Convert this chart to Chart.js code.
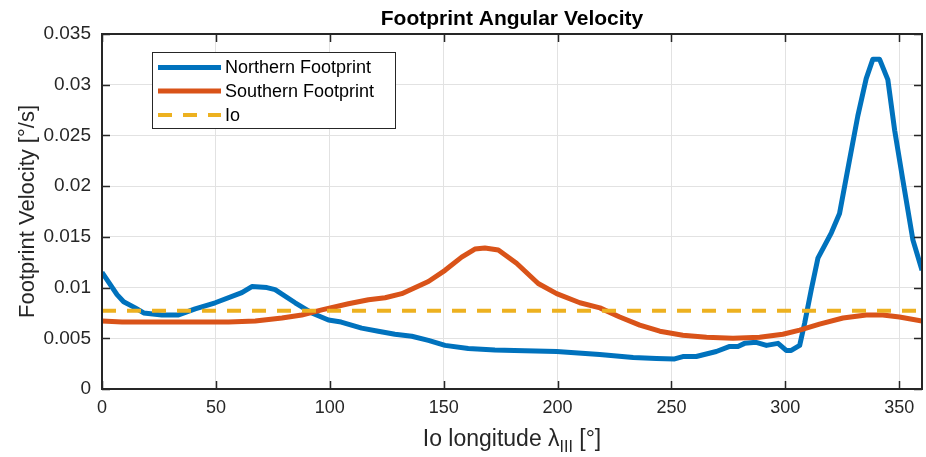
<!DOCTYPE html>
<html>
<head>
<meta charset="utf-8">
<script src="https://cdn.jsdelivr.net/npm/chart.js@4"></script>
<style>
  body { margin: 0; background: #fff; }
  canvas { display: block; }
</style>
</head>
<body>
<canvas id="fpChart" width="926" height="457"></canvas>
<script>
// values (longitude in deg, velocity in deg/s)
const northLon = [0, 6.6, 9.5, 14.6, 18.3, 26.3, 33.6, 40.9, 49.7, 61.4, 65.8, 72.4, 76, 84.8, 92.1,
  99.4, 105, 114, 121.3, 128.6, 136, 143.3, 150.6, 160.8, 172.5, 181, 199.6, 218.5, 233.2, 243.4,
  251.4, 255, 260.9, 269.7, 275.6, 279.2, 282.1, 287.2, 291.7, 296.8, 300.4, 302.6, 306.3, 308.5, 311.4,
  314.3, 320.2, 323.8, 328.2, 331.8, 335.5, 338.4, 341.4, 345, 348, 351.6, 356, 360];
const northVel = [0.0115, 0.0093, 0.0086, 0.0080, 0.0075, 0.0073, 0.0073, 0.0079, 0.0085, 0.0095, 0.0101, 0.0100, 0.0098, 0.0085, 0.0075,
  0.0068, 0.0066, 0.0060, 0.0057, 0.0054, 0.0052, 0.0048, 0.0043, 0.0040, 0.00385, 0.0038, 0.0037, 0.0034, 0.0031, 0.0030,
  0.00296, 0.0032, 0.0032, 0.0037, 0.0042, 0.0042, 0.0045, 0.0046, 0.0043, 0.0045, 0.0038, 0.0038, 0.0043, 0.0065, 0.0098,
  0.0129, 0.0154, 0.0173, 0.0226, 0.0269, 0.0306, 0.0325, 0.0325, 0.0305, 0.0255, 0.0206, 0.0147, 0.0117];

const southLon = [0, 8.8, 19, 33.6, 55.6, 67.3, 79, 87.7, 96.5, 108.2, 117, 124.3, 131.6, 143.3, 150.6,
  157.9, 163.7, 168.1, 174, 182, 191.5, 199.6, 209.8, 218.6, 227.3, 236.1, 244.9, 255, 265.4, 277,
  288.7, 298.9, 306.3, 315, 325.3, 335.5, 342.8, 350.1, 360];
const southVel = [0.0067, 0.0066, 0.0066, 0.0066, 0.0066, 0.0067, 0.0070, 0.0073, 0.0078, 0.0084, 0.0088, 0.0090, 0.0094, 0.0106, 0.0117,
  0.0130, 0.0138, 0.0139, 0.0137, 0.0124, 0.0104, 0.0094, 0.0085, 0.0080, 0.0071, 0.0063, 0.0057, 0.0053, 0.0051, 0.0050,
  0.0051, 0.0054, 0.0058, 0.0064, 0.0070, 0.0073, 0.0073, 0.0071, 0.0067];

const ioLon = [0, 360];
const ioVel = [0.00772, 0.00772];

const xTicks = [0, 50, 100, 150, 200, 250, 300, 350];
const yTicks = [0, 0.005, 0.01, 0.015, 0.02, 0.025, 0.03, 0.035];

const titleText = "Footprint Angular Velocity";
const yTitle = "Footprint Velocity [°/s]";

const toPoints = (xs, ys) => xs.map((x, i) => ({ x: x, y: ys[i] }));

const axisColor = "#262626";
const fontFam = "'Liberation Sans', Arial, sans-serif";

// title, axis labels, box, inward ticks and the legend, MATLAB style
const matlabDecor = {
  id: "matlabDecor",
  afterDraw(chart) {
    const ctx = chart.ctx;
    const a = chart.chartArea;
    const xs = chart.scales.x, ys = chart.scales.y;
    ctx.save();

    // inward ticks
    ctx.strokeStyle = axisColor;
    ctx.lineWidth = 1.5;
    ctx.beginPath();
    xTicks.forEach(v => {
      const px = Math.round(xs.getPixelForValue(v)) + 0.5;
      ctx.moveTo(px, a.bottom); ctx.lineTo(px, a.bottom - 8);
      ctx.moveTo(px, a.top); ctx.lineTo(px, a.top + 8);
    });
    yTicks.forEach(v => {
      const py = Math.round(ys.getPixelForValue(v)) + 0.5;
      ctx.moveTo(a.left, py); ctx.lineTo(a.left + 8, py);
      ctx.moveTo(a.right, py); ctx.lineTo(a.right - 8, py);
    });
    ctx.stroke();

    // box
    ctx.lineWidth = 2;
    ctx.strokeRect(a.left, a.top, a.right - a.left, a.bottom - a.top);

    // title
    ctx.fillStyle = "#000";
    ctx.font = "bold 21px " + fontFam;
    ctx.textAlign = "center";
    ctx.textBaseline = "alphabetic";
    ctx.fillText(titleText, (a.left + a.right) / 2, 25);

    // x title with subscript
    ctx.fillStyle = axisColor;
    ctx.font = "23px " + fontFam;
    const p1 = "Io longitude \u03BB";
    const sub = "III";
    const p2 = " [°]";
    const w1 = ctx.measureText(p1).width;
    ctx.font = "16px " + fontFam;
    const ws = ctx.measureText(sub).width;
    ctx.font = "23px " + fontFam;
    const w2 = ctx.measureText(p2).width;
    let tx = (a.left + a.right) / 2 - (w1 + ws + w2) / 2;
    const tb = 446;
    ctx.textAlign = "left";
    ctx.fillText(p1, tx, tb);
    tx += w1;
    ctx.font = "16px " + fontFam;
    ctx.fillText(sub, tx, tb + 6);
    tx += ws;
    ctx.font = "23px " + fontFam;
    ctx.fillText(p2, tx, tb);

    // y title
    ctx.save();
    ctx.translate(34, (a.top + a.bottom) / 2);
    ctx.rotate(-Math.PI / 2);
    ctx.textAlign = "center";
    ctx.font = "22px " + fontFam;
    ctx.fillText(yTitle, 0, 0);
    ctx.restore();

    // legend
    const lx = 152.5, ly = 52.5, lw = 243, lh = 76;
    ctx.fillStyle = "#fff";
    ctx.fillRect(lx, ly, lw, lh);
    ctx.strokeStyle = axisColor;
    ctx.lineWidth = 1;
    ctx.strokeRect(lx, ly, lw, lh);
    const rows = [67.5, 91, 115];
    chart.data.datasets.forEach((ds, i) => {
      ctx.strokeStyle = ds.borderColor;
      ctx.lineWidth = ds.borderWidth;
      ctx.setLineDash(ds.borderDash || []);
      ctx.beginPath();
      ctx.moveTo(158, rows[i]);
      ctx.lineTo(221, rows[i]);
      ctx.stroke();
      ctx.setLineDash([]);
      ctx.fillStyle = "#000";
      ctx.font = "18px " + fontFam;
      ctx.textAlign = "left";
      ctx.textBaseline = "middle";
      ctx.fillText(ds.label, 225, rows[i] + 1);
    });
    ctx.restore();
  }
};

new Chart(document.getElementById("fpChart"), {
  type: "line",
  data: {
    datasets: [
      {
        label: "Northern Footprint",
        data: toPoints(northLon, northVel),
        borderColor: "#0072BD",
        borderWidth: 5,
        order: 2
      },
      {
        label: "Southern Footprint",
        data: toPoints(southLon, southVel),
        borderColor: "#D95319",
        borderWidth: 5,
        order: 1
      },
      {
        label: "Io",
        data: toPoints(ioLon, ioVel),
        borderColor: "#EDB120",
        borderWidth: 4,
        borderDash: [14, 11],
        order: 0
      }
    ]
  },
  options: {
    responsive: false,
    animation: false,
    layout: { padding: { top: 34, right: 4, left: 0, bottom: 0 } },
    elements: {
      point: { radius: 0 },
      line: { tension: 0, borderJoinStyle: "round", fill: false }
    },
    plugins: {
      legend: { display: false },
      title: { display: false },
      tooltip: { enabled: false }
    },
    scales: {
      x: {
        type: "linear",
        min: 0,
        max: 360,
        afterFit: s => { s.height = 68; },
        afterBuildTicks: s => { s.ticks = xTicks.map(v => ({ value: v })); },
        grid: { color: "#e2e2e2", lineWidth: 1, drawTicks: false },
        border: { display: false },
        ticks: {
          color: axisColor,
          font: { family: fontFam, size: 18 },
          padding: 8,
          maxRotation: 0
        }
      },
      y: {
        type: "linear",
        min: 0,
        max: 0.035,
        afterFit: s => { s.width = 102; },
        afterBuildTicks: s => { s.ticks = yTicks.map(v => ({ value: v })); },
        grid: { color: "#e2e2e2", lineWidth: 1, drawTicks: false },
        border: { display: false },
        ticks: {
          color: axisColor,
          font: { family: fontFam, size: 19 },
          padding: 11,
          callback: v => String(Number(v.toFixed(3)))
        }
      }
    }
  },
  plugins: [matlabDecor]
});
</script>
</body>
</html>
